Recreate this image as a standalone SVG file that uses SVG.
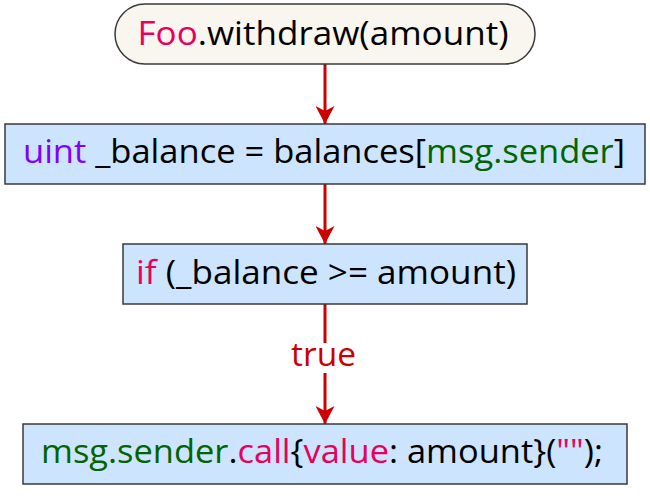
<svg xmlns="http://www.w3.org/2000/svg" width="650" height="496" viewBox="0 0 650 496">
<defs>
<style>
.box{fill:#cce4fd;stroke:#3a3a3a;stroke-width:1.5}
.start{fill:#f8f6ee;stroke:#3a3a3a;stroke-width:1.5}
.t{font-family:"Open Sans","DejaVu Sans",sans-serif;font-size:32px;fill:#000}
.kw{fill:#e8005c}
.ty{fill:#8000ff}
.gr{fill:#006400}
.edge{stroke:#cc0000;stroke-width:3;fill:none}
.lbl{font-family:"Open Sans","DejaVu Sans",sans-serif;font-size:32px;fill:#cc0000}
</style>
<marker id="ah" markerUnits="userSpaceOnUse" markerWidth="18" markerHeight="19" viewBox="0 0 18 19" refX="18" refY="9.5" orient="auto">
<path d="M0,0 L18,9.5 L0,19 L5,9.5 Z" fill="#cc0000"/>
</marker>
</defs>
<rect width="650" height="496" fill="#ffffff"/>
<g id="connectors">
<line class="edge" x1="325" y1="64" x2="325" y2="124" marker-end="url(#ah)"/>
<line class="edge" x1="325" y1="184" x2="325" y2="244" marker-end="url(#ah)"/>
<line class="edge" x1="325" y1="304" x2="325" y2="343"/>
<line class="edge" x1="325" y1="373" x2="325" y2="424" marker-end="url(#ah)"/>
<text class="lbl" x="323.5" y="366" text-anchor="middle" textLength="65" lengthAdjust="spacingAndGlyphs">true</text>
</g>
<g id="start">
<rect class="start" x="115" y="4" width="420" height="60" rx="30" ry="30"/>
<text class="t" x="323" y="45" text-anchor="middle" textLength="371" lengthAdjust="spacingAndGlyphs"><tspan class="kw">Foo</tspan>.withdraw(amount)</text>
</g>
<g id="assign">
<rect class="box" x="5" y="124" width="640" height="60"/>
<text class="t" x="324" y="163" text-anchor="middle" textLength="602" lengthAdjust="spacingAndGlyphs"><tspan class="ty">uint</tspan> _balance = balances[<tspan class="gr">msg.sender</tspan>]</text>
</g>
<g id="cond">
<rect class="box" x="123" y="244" width="404" height="60"/>
<text class="t" x="326" y="284" text-anchor="middle" textLength="380" lengthAdjust="spacingAndGlyphs"><tspan class="kw">if</tspan> (_balance &gt;= amount)</text>
</g>
<g id="call">
<rect class="box" x="23" y="424" width="604" height="60"/>
<text class="t" x="322" y="463" text-anchor="middle" textLength="562" lengthAdjust="spacingAndGlyphs"><tspan class="gr">msg.sender</tspan>.<tspan class="kw">call</tspan>{<tspan class="kw">value</tspan>: amount}(<tspan class="kw">""</tspan>);</text>
</g>
</svg>
